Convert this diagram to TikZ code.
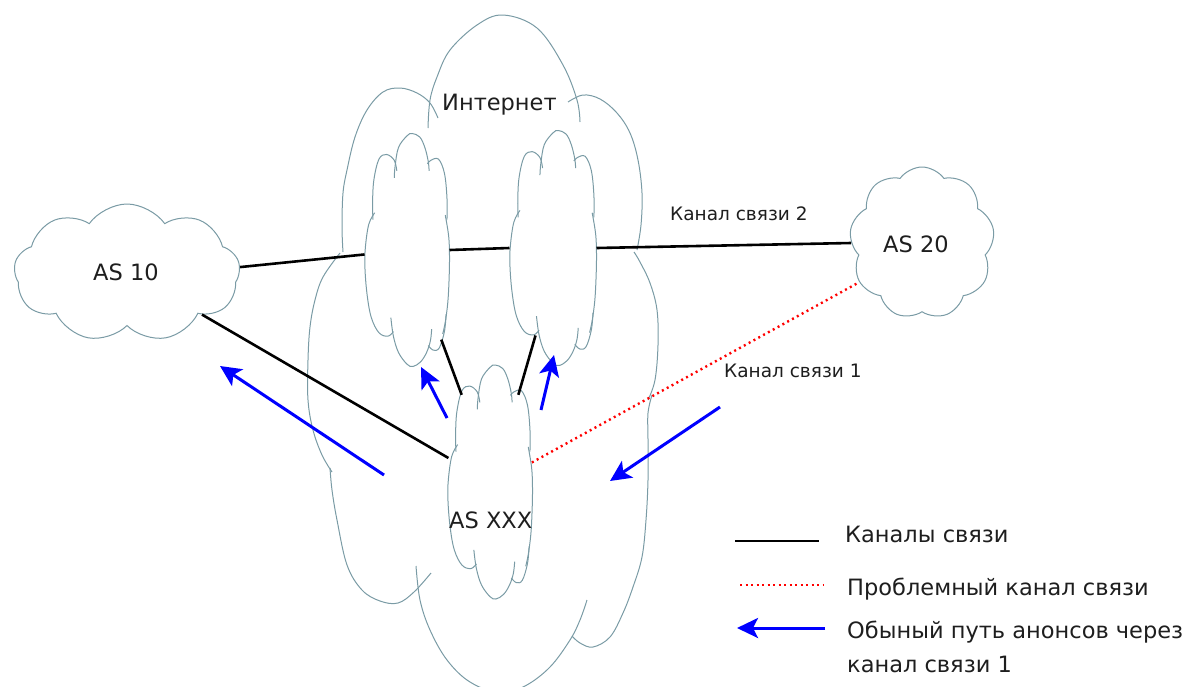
\documentclass[tikz,border=0pt]{standalone}
\usepackage{fontspec}
\setmainfont{DejaVu Sans}
\usetikzlibrary{shapes.symbols,shapes.geometric,arrows.meta}
\definecolor{cloudc}{RGB}{122,155,165}
\definecolor{arrblue}{RGB}{0,0,255}
\definecolor{dotred}{RGB}{255,0,0}
\definecolor{txt}{RGB}{30,30,30}
\newcommand{\tallcloud}[4]{%
\begin{scope}[shift={(#1,#2)}, xscale=#3, yscale=#4]
\draw[cloudline] plot[smooth,tension=0.6] coordinates {(-0.30,-0.62) (-0.28,-0.72) (-0.20,-0.88) (0.0,-0.98) (0.12,-1.0) (0.30,-0.97) (0.42,-0.88) (0.50,-0.76) (0.52,-0.68)};
\draw[cloudline] plot[smooth,tension=0.6] coordinates {(-0.24,-0.68) (-0.30,-0.77) (-0.48,-0.82) (-0.66,-0.78) (-0.78,-0.60) (-0.81,-0.40) (-0.80,-0.26)};
\draw[cloudline] plot[smooth,tension=0.6] coordinates {(0.48,-0.74) (0.56,-0.77) (0.74,-0.78) (0.88,-0.66) (0.94,-0.45) (0.94,-0.26)};
\draw[cloudline] plot[smooth,tension=0.6] coordinates {(-0.76,-0.32) (-0.90,-0.22) (-0.98,-0.02) (-0.99,0.15) (-0.94,0.38) (-0.84,0.58) (-0.66,0.71) (-0.45,0.74) (-0.32,0.70)};
\draw[cloudline] plot[smooth,tension=0.6] coordinates {(-0.38,0.58) (-0.32,0.74) (-0.20,0.88) (0.0,0.98) (0.14,1.0) (0.32,0.96) (0.46,0.88) (0.55,0.78) (0.58,0.68)};
\draw[cloudline] plot[smooth,tension=0.6] coordinates {(0.50,0.82) (0.62,0.86) (0.76,0.84) (0.88,0.70) (0.92,0.55)};
\draw[cloudline] plot[smooth,tension=0.6] coordinates {(0.90,-0.30) (0.98,-0.12) (1.0,0.05) (0.99,0.25) (0.96,0.45) (0.90,0.62) (0.84,0.72)};
\end{scope}}
\begin{document}
\begin{tikzpicture}[x=1pt,y=-1pt,
  cloudline/.style={draw=cloudc, line width=1pt},
  asbox/.style={cloud, cloudline, cloud ignores aspect, inner sep=0pt, cloud puff arc=110, fill=white},
  tallbox/.style={ellipse, inner sep=0pt, outer sep=0pt},
  big/.style={font=\fontsize{22.5}{27}\selectfont, text=txt, inner sep=0pt, anchor=base west},
  small/.style={font=\fontsize{18.5}{22}\selectfont, text=txt, inner sep=0pt, anchor=base west},
  link/.style={line width=2.6pt, black},
  badlink/.style={line width=2.4pt, dotred, dash pattern=on 2pt off 3.5pt},
  annc/.style={line width=3pt, arrblue, -{Stealth[length=21pt,width=20pt,inset=5pt]}},
]
\useasboundingbox (0,0) rectangle (1199,686);
% big Internet cloud
\begin{scope}
\clip (0,0) rectangle (1199,686);
\draw[cloudline] plot[smooth,tension=0.6] coordinates {(428,128) (430,100) (437,77) (450,50) (477,25) (503,15) (537,28) (563,65) (577,100) (580,122)};
\draw[cloudline] plot[smooth,tension=0.6] coordinates {(438,118) (430,103) (417,93) (400,88) (383,92) (367,110) (355,137) (347,170) (343,193) (342,227) (343,252)};
\draw[cloudline] plot[smooth,tension=0.6] coordinates {(340,253) (323,277) (315,300) (310,327) (308,360) (308,400) (313,430) (322,455) (332,472)};
\draw[cloudline] plot[smooth,tension=0.6] coordinates {(330,468) (332,490) (337,520) (347,565) (362,590) (380,601) (398,603) (414,592) (431,573)};
\draw[cloudline] plot[smooth,tension=0.6] coordinates {(416,566) (420,600) (430,630) (447,660) (470,682) (500,693) (525,686) (550,667) (570,640) (580,620) (587,600)};
\draw[cloudline] plot[smooth,tension=0.6] coordinates {(572,636) (580,643) (593,647) (610,637) (623,613) (633,587) (642,557) (646,520) (648,480) (648,440) (648,413) (652,395)};
\draw[cloudline] plot[smooth,tension=0.6] coordinates {(648,400) (655,380) (658,345) (657,310) (650,283) (640,262) (634,252)};
\draw[cloudline] plot[smooth,tension=0.6] coordinates {(637,250) (641,225) (642,193) (638,160) (630,133) (617,113) (600,99) (583,95) (568,102)};
\end{scope}
% AS clouds
\node[asbox, cloud puffs=9, minimum width=226pt, minimum height=138pt] (as10) at (127,273) {};
\node[asbox, cloud puffs=9, minimum width=145pt, minimum height=152pt] (as20) at (922,243) {};
\node[tallbox, minimum width=85pt, minimum height=233pt] (r1) at (407,250) {};
\node[tallbox, minimum width=87pt, minimum height=235pt] (r2) at (553,248) {};
\node[tallbox, minimum width=85pt, minimum height=234pt] (asx) at (490,482) {};
\tallcloud{407}{250}{42.5}{116.5}
\tallcloud{553}{248}{43.5}{117.5}
\tallcloud{490}{482}{42.5}{117}
% labels
\node[big] (inet) at (442,110) {Интернет};
\node[big] (l10) at (93,280) {AS 10};
\node[big] (l20) at (883,252) {AS 20};
\node[big] (lx) at (449,528) {AS XXX};
\node[small] (k2) at (670,220) {Канал связи 2};
\node[small] (k1) at (724,377) {Канал связи 1};
% links
\draw[link] (as10.3) -- (r1.186);
\draw[link] (r1.east) -- (r2.west);
\draw[link] (r2.east) -- (as20.west);
\draw[link] (as10.-29) -- (asx.150);
\draw[link, shorten <=10pt] (r1.-69) -- (asx.108);
\draw[link, shorten <=-15pt] (r2.-102.5) -- (asx.72);
\draw[badlink] (asx.25) -- (as20.212);
% announcement arrows
\coordinate (a1s) at (384,475); \coordinate (a1e) at (220,366);
\coordinate (a2s) at (447,418); \coordinate (a2e) at (421,367);
\coordinate (a3s) at (541,410); \coordinate (a3e) at (554,355);
\coordinate (a4s) at (720,407); \coordinate (a4e) at (610,481);
\draw[annc] (a1s) -- (a1e);
\draw[annc] (a2s) -- (a2e);
\draw[annc] (a3s) -- (a3e);
\draw[annc] (a4s) -- (a4e);
% legend
\coordinate (g1s) at (735,541); \coordinate (g1e) at (819,541);
\coordinate (g2s) at (740,585); \coordinate (g2e) at (823,585);
\coordinate (g3s) at (825,628); \coordinate (g3e) at (737,628);
\draw[link] (g1s) -- (g1e);
\draw[badlink] (g2s) -- (g2e);
\draw[annc] (g3s) -- (g3e);
\node[big] (t1) at (845,542) {Каналы связи};
\node[big] (t2) at (847,595) {Проблемный канал связи};
\node[big] (t3) at (847,638) {Обыный путь анонсов через};
\node[big] (t4) at (847,672) {канал связи 1};
\end{tikzpicture}
\end{document}
